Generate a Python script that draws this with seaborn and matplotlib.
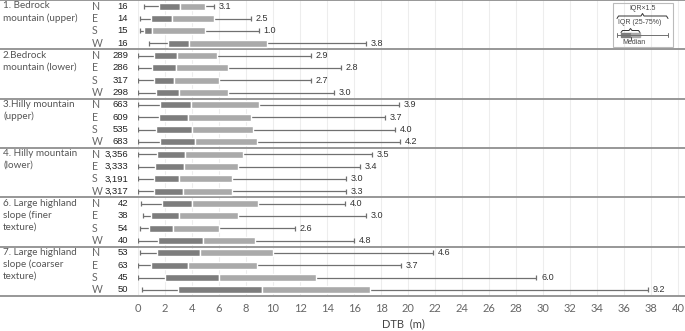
import numpy as np
import pandas as pd
import matplotlib
matplotlib.use("Agg")
import matplotlib.pyplot as plt
import matplotlib.transforms as mtransforms
from matplotlib.lines import Line2D
from matplotlib.patches import Rectangle
import seaborn as sns

# Data (DTB in metres)
groups = ["1. Bedrock\nmountain (upper)", "2.Bedrock\nmountain (lower)",
          "3.Hilly mountain\n(upper)", "4. Hilly mountain\n(lower)",
          "6. Large highland\nslope (finer\ntexture)", "7. Large highland\nslope (coarser\ntexture)"]
aspects = ["N", "E", "S", "W"]
counts = [16, 14, 15, 16, 289, 286, 317, 298, 663, 609, 535, 683,
          3356, 3333, 3191, 3317, 42, 38, 54, 40, 53, 63, 45, 50]
whisker_low = [0.44, 0.12, 0.12, 0.83, 0.0, 0.0, 0.0, 0.0, 0.0, 0.0, 0.0, 0.0,
               0.0, 0.0, 0.0, 0.0, 0.22, 0.39, 0.12, 0.0, 0.12, 0.0, 0.0, 0.29]
q1 = [1.59, 0.93, 0.44, 2.24, 1.15, 1.02, 1.15, 1.32, 1.66, 1.54, 1.32, 1.66,
      1.37, 1.27, 1.15, 1.15, 1.76, 0.93, 0.80, 1.49, 1.41, 0.93, 1.98, 2.95]
median = [3.1, 2.5, 1.0, 3.8, 2.9, 2.8, 2.7, 3.0, 3.9, 3.7, 4.0, 4.2,
          3.5, 3.4, 3.0, 3.3, 4.0, 3.0, 2.6, 4.8, 4.6, 3.7, 6.0, 9.2]
q3 = [4.98, 5.63, 4.98, 9.54, 5.83, 6.68, 6.00, 6.68, 8.95, 8.37, 8.49, 8.80,
      7.78, 7.39, 6.93, 6.93, 8.88, 7.39, 5.98, 8.68, 9.98, 8.83, 13.2, 17.2]
whisker_high = [5.6, 8.37, 8.95, 16.9, 12.83, 15.0, 12.83, 14.5, 19.35, 18.3, 19.03, 19.42,
                17.3, 16.4, 15.4, 15.4, 15.3, 16.9, 11.6, 16.0, 21.85, 19.5, 29.5, 37.75]

# Build a tidy table, one row per group/aspect
df = pd.DataFrame({
    "group": np.repeat(groups, len(aspects)),
    "aspect": aspects * len(groups),
    "n": counts, "lo": whisker_low, "q1": q1, "med": median, "q3": q3, "hi": whisker_high,
})
df["row"] = np.arange(len(df))

sns.set_theme(style="white")
plt.rcParams["font.family"] = ["Lato", "DejaVu Sans"]

dark = "#7d7d7d"
light = "#aaaaaa"
line_c = "#707070"

fig = plt.figure(figsize=(6.85, 3.31), dpi=100)
ax = fig.add_axes([138 / 685, 35 / 331, 547 / 685, 296 / 331])

# Whiskers and caps
ax.hlines(df.row, df.lo, df.hi, color=line_c, lw=0.9, zorder=2)
ax.vlines(df.lo, df.row - 0.2, df.row + 0.2, color=line_c, lw=0.9, zorder=2)
ax.vlines(df.hi, df.row - 0.2, df.row + 0.2, color=line_c, lw=0.9, zorder=2)

# Two-tone IQR boxes
ax.barh(df.row, df.med - df.q1, left=df.q1, height=0.55, color=dark, zorder=3)
ax.barh(df.row, df.q3 - df.med, left=df.med, height=0.55, color=light, zorder=3)

# Median labels beside the upper whisker
for _, r in df.iterrows():
    ax.text(r.hi + 0.35, r.row, f"{r.med:.1f}", va="center", ha="left",
            fontsize=6.5, color="#333333", family=["Liberation Sans"])

ax.set_xlim(0, 40.5)
ax.set_ylim(len(df) - 0.5, -0.5)
ax.set_yticks([])
ax.set_xticks(range(0, 41, 2))
ax.tick_params(axis="x", labelsize=8, colors="#666666", pad=5, length=0)
ax.grid(axis="x", color="#ededed", lw=0.8, zorder=0)
ax.set_axisbelow(True)
sns.despine(ax=ax, left=True, bottom=True, top=True, right=True)
ax.set_xlabel("DTB  (m)", fontsize=8, color="#444444", labelpad=5)
ax.xaxis.set_label_coords(0.485, -0.075)

# Left-hand labels: group name, aspect and count
trans = mtransforms.blended_transform_factory(fig.transFigure, ax.transData)
for g, name in enumerate(groups):
    start = g * len(aspects)
    ax.text(3 / 685, start - 0.4, name, transform=trans, va="top", ha="left",
            fontsize=7.1, color="#555555", linespacing=1.38)
for _, r in df.iterrows():
    ax.text(92 / 685, r.row, r.aspect, transform=trans, va="center", ha="left",
            fontsize=7.6, color="#666666")
    ax.text(128 / 685, r.row, f"{r.n:,}", transform=trans, va="center", ha="right",
            fontsize=6.8, color="#222222", family=["Liberation Sans"])

# Group separators across the full width
for k in range(len(groups) + 1):
    y = k * len(aspects) - 0.5
    ax.add_line(Line2D([0, 1], [y, y], transform=trans, color="#8f8f8f", lw=1.3, clip_on=False))

# Legend key (top right), in figure pixels
def px(x, y):
    return x / 685, 1 - y / 331

fig.patches.append(Rectangle(px(613, 47), 60 / 685, 44 / 331, transform=fig.transFigure,
                             fill=False, ec="#bbbbbb", lw=0.8))
fs = 5.0
fig.text(*px(643, 9), "IQR×1.5", fontsize=fs, ha="center", va="center", color="#444444",
         family=["Liberation Sans"])
fig.text(*px(640, 23), "IQR (25-75%)", fontsize=fs, ha="center", va="center", color="#444444",
         family=["Liberation Sans"])
fig.text(*px(634, 43), "Median", fontsize=fs, ha="center", va="center", color="#444444",
         family=["Liberation Sans"])


def brace(x0, x1, y, h=2.5):
    xm = (x0 + x1) / 2
    pts = [(x0, y + h), (x0 + 1.5, y), (xm - 1.5, y), (xm, y - h), (xm + 1.5, y), (x1 - 1.5, y), (x1, y + h)]
    xs, ys = zip(*[px(a, b) for a, b in pts])
    fig.lines.append(Line2D(xs, ys, transform=fig.transFigure, color="#333333", lw=0.7))


brace(617, 668, 16)
brace(621, 640, 30.5, h=2)
# mini box plot in the key
wx, wy = zip(px(617, 35), px(668, 35))
fig.lines.append(Line2D(wx, wy, transform=fig.transFigure, color=line_c, lw=0.7))
for cx in (617, 668):
    a, b = zip(px(cx, 33), px(cx, 37))
    fig.lines.append(Line2D(a, b, transform=fig.transFigure, color=line_c, lw=0.7))
fig.patches.append(Rectangle(px(621, 37), 10 / 685, 4 / 331, transform=fig.transFigure, color=dark))
fig.patches.append(Rectangle(px(631, 37), 9 / 685, 4 / 331, transform=fig.transFigure, color=light))
a, b = zip(px(631, 39.5), px(631, 37))
fig.lines.append(Line2D(a, b, transform=fig.transFigure, color="#333333", lw=0.6))

fig.savefig("out.png", dpi=100)
